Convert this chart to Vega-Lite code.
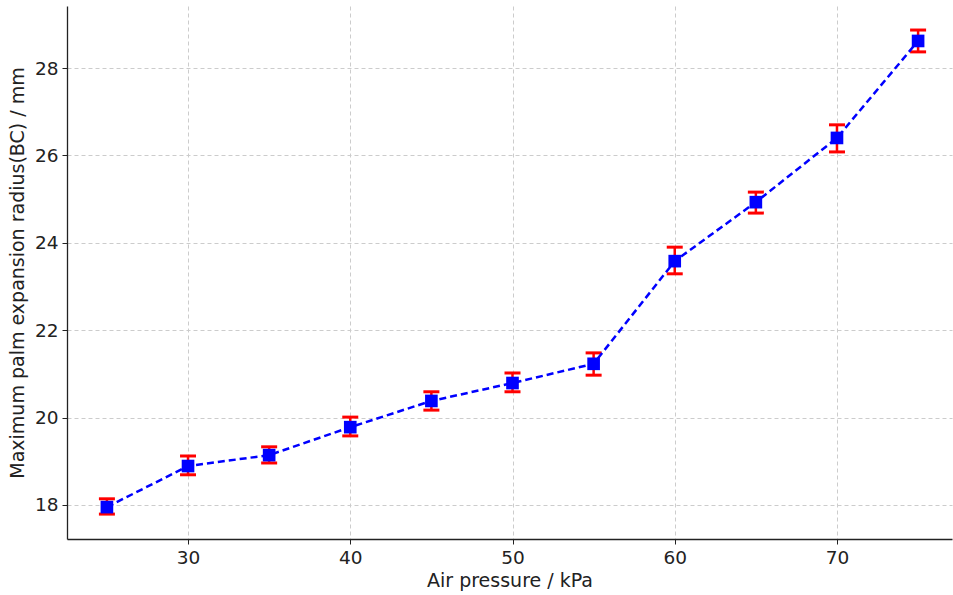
{
  "$schema": "https://vega.github.io/schema/vega-lite/v6.json",
  "width": 885,
  "height": 533,
  "autosize": {"type": "none"},
  "padding": {"left": 67, "top": 6, "right": 1, "bottom": 56},
  "background": "white",
  "config": {
    "font": "DejaVu Sans",
    "view": {"stroke": null},
    "axis": {
      "labelFont": "DejaVu Sans",
      "titleFont": "DejaVu Sans",
      "titleFontWeight": "normal",
      "labelColor": "#222",
      "titleColor": "#222",
      "domainColor": "#222",
      "domainWidth": 1.3,
      "tickColor": "#222",
      "tickSize": 5,
      "gridColor": "#cccccc",
      "gridDash": [4, 3],
      "gridWidth": 1
    }
  },
  "data": {
    "values": [
      {"p": 25, "r": 17.95, "lo": 17.79, "hi": 18.14},
      {"p": 30, "r": 18.89, "lo": 18.69, "hi": 19.12},
      {"p": 35, "r": 19.14, "lo": 18.96, "hi": 19.33},
      {"p": 40, "r": 19.78, "lo": 19.58, "hi": 20.01},
      {"p": 45, "r": 20.38, "lo": 20.17, "hi": 20.59},
      {"p": 50, "r": 20.79, "lo": 20.59, "hi": 21.02},
      {"p": 55, "r": 21.23, "lo": 20.97, "hi": 21.48},
      {"p": 60, "r": 23.58, "lo": 23.29, "hi": 23.90},
      {"p": 65, "r": 24.93, "lo": 24.68, "hi": 25.16},
      {"p": 70, "r": 26.40, "lo": 26.08, "hi": 26.70},
      {"p": 75, "r": 28.62, "lo": 28.37, "hi": 28.87}
    ]
  },
  "encoding": {
    "x": {
      "field": "p", "type": "quantitative",
      "scale": {"domain": [22.54, 77.09], "nice": false, "zero": false},
      "axis": {"title": "Air pressure / kPa", "values": [30, 40, 50, 60, 70], "titlePadding": 5, "labelPadding": 4, "labelFontSize": 18.5, "titleFontSize": 19}
    }
  },
  "layer": [
    {
      "mark": {"type": "rule", "color": "red", "strokeWidth": 2.5, "opacity": 1},
      "encoding": {
        "y": {"field": "lo", "type": "quantitative",
          "scale": {"domain": [17.22, 29.42], "nice": false, "zero": false},
          "axis": {"title": "Maximum palm expansion radius(BC) / mm", "values": [18, 20, 22, 24, 26, 28], "titlePadding": 7, "labelPadding": 4, "labelFontSize": 18.5, "titleFontSize": 19}},
        "y2": {"field": "hi"}
      }
    },
    {
      "mark": {"type": "tick", "color": "red", "orient": "horizontal", "size": 16, "thickness": 3, "opacity": 1},
      "encoding": {"y": {"field": "lo", "type": "quantitative"}}
    },
    {
      "mark": {"type": "tick", "color": "red", "orient": "horizontal", "size": 16, "thickness": 3, "opacity": 1},
      "encoding": {"y": {"field": "hi", "type": "quantitative"}}
    },
    {
      "mark": {"type": "line", "color": "blue", "strokeWidth": 2.5, "strokeDash": [7, 4]},
      "encoding": {"y": {"field": "r", "type": "quantitative"}}
    },
    {
      "mark": {"type": "point", "shape": "square", "filled": true, "color": "blue", "opacity": 1, "size": 160},
      "encoding": {"y": {"field": "r", "type": "quantitative"}}
    }
  ]
}
